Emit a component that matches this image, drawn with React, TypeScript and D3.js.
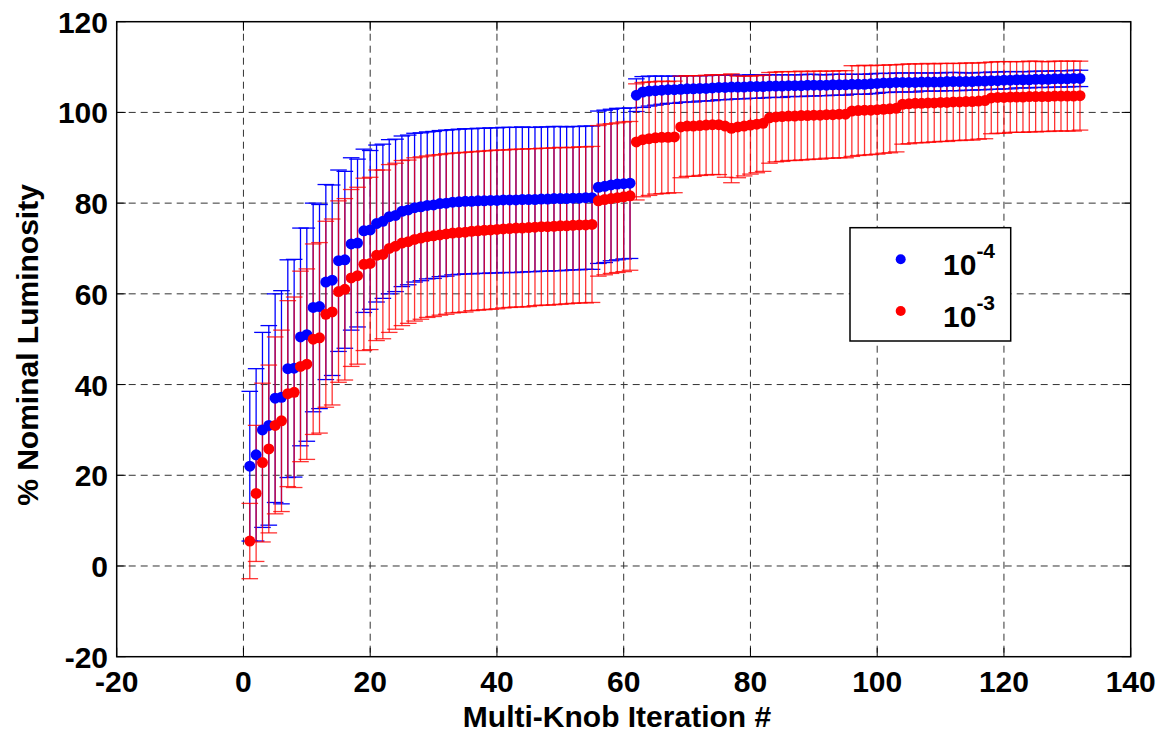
import React from 'react';
import * as d3 from 'd3';

// % nominal luminosity per multi-knob iteration, two noise levels
const iterations = d3.range(1, 133);

const blueValues = [
  22.0, 24.5, 30.0, 31.0, 37.0, 37.2, 43.5, 43.6, 50.5, 51.0,
  57.0, 57.2, 62.6, 63.0, 67.3, 67.5, 71.0, 71.2, 73.9, 74.1,
  75.5, 76.0, 77.0, 77.3, 78.2, 78.5, 79.0, 79.2, 79.5, 79.6,
  79.9, 80.0, 80.2, 80.3, 80.4, 80.4, 80.5, 80.5, 80.6, 80.6,
  80.7, 80.7, 80.7, 80.8, 80.8, 80.8, 80.9, 80.9, 81.0, 81.0,
  81.0, 81.1, 81.1, 81.2, 81.2, 83.5, 83.7, 84.0, 84.2, 84.3,
  84.4, 103.8, 104.5, 104.7, 104.8, 104.9, 105.0, 105.0, 105.1, 105.2,
  105.2, 105.3, 105.3, 105.4, 105.5, 105.5, 105.6, 105.6, 105.6, 105.7,
  105.7, 105.7, 105.8, 105.8, 105.8, 105.9, 105.9, 105.9, 106.0, 106.0,
  106.0, 106.0, 106.1, 106.1, 106.1, 106.2, 106.2, 106.2, 106.3, 106.4,
  106.5, 106.5, 106.6, 106.6, 106.6, 106.6, 106.7, 106.7, 106.7, 106.7,
  106.8, 106.8, 106.8, 106.8, 106.8, 106.9, 106.9, 107.0, 107.0, 107.1,
  107.1, 107.2, 107.2, 107.2, 107.3, 107.3, 107.3, 107.4, 107.4, 107.4,
  107.5, 107.5,
];

const blueErrors = [
  16.5, 19.0, 21.5, 22.0, 23.0, 23.5, 24.0, 24.0, 24.0, 23.5,
  23.0, 22.5, 21.5, 21.0, 20.0, 19.5, 19.0, 18.5, 18.0, 17.5,
  17.3, 17.0, 17.0, 16.8, 16.6, 16.5, 16.4, 16.3, 16.2, 16.2,
  16.1, 16.1, 16.0, 16.0, 16.0, 16.0, 16.0, 16.0, 16.0, 16.0,
  16.0, 16.0, 16.0, 16.0, 15.9, 15.9, 15.9, 15.9, 15.9, 15.9,
  15.8, 15.8, 15.8, 15.8, 15.8, 16.8, 16.8, 16.7, 16.7, 16.6,
  16.6, 3.6, 3.4, 3.3, 3.2, 3.1, 3.0, 3.0, 2.9, 2.9,
  2.9, 2.8, 2.8, 2.8, 2.7, 2.7, 2.7, 2.6, 2.6, 2.6,
  2.6, 2.5, 2.5, 2.5, 2.5, 2.4, 2.4, 2.4, 2.4, 2.4,
  2.3, 2.3, 2.3, 2.3, 2.3, 2.2, 2.2, 2.2, 2.2, 2.2,
  2.1, 2.1, 2.1, 2.1, 2.1, 2.1, 2.0, 2.0, 2.0, 2.0,
  2.0, 2.0, 2.0, 1.9, 1.9, 1.9, 1.9, 1.9, 1.9, 1.9,
  1.9, 1.8, 1.8, 1.8, 1.8, 1.8, 1.8, 1.8, 1.8, 1.8,
  1.8, 1.8,
];

const redValues = [
  5.5, 16.0, 22.8, 25.8, 31.0, 32.0, 38.0, 38.3, 44.0, 44.5,
  50.0, 50.3, 55.5, 56.0, 60.5, 61.0, 63.5, 64.0, 66.5, 66.7,
  68.5, 68.7, 70.0, 70.5, 71.2, 71.5, 72.0, 72.3, 72.6, 72.8,
  73.0, 73.2, 73.4, 73.5, 73.6, 73.8, 73.9, 74.0, 74.1, 74.2,
  74.3, 74.4, 74.5, 74.5, 74.6, 74.7, 74.8, 74.8, 74.9, 75.0,
  75.0, 75.1, 75.2, 75.2, 75.3, 80.5, 80.8, 81.0, 81.2, 81.4,
  81.6, 93.5, 94.0, 94.2, 94.4, 94.5, 94.5, 94.6, 96.8, 97.0,
  97.0, 97.1, 97.2, 97.3, 97.3, 97.0, 96.5, 96.8, 97.0, 97.2,
  97.4, 97.6, 98.8, 99.0, 99.1, 99.2, 99.2, 99.3, 99.3, 99.4,
  99.4, 99.5, 99.5, 99.6, 99.6, 100.3, 100.4, 100.5, 100.5, 100.6,
  100.7, 100.8, 100.9, 101.8, 101.9, 102.0, 102.0, 102.1, 102.1, 102.2,
  102.2, 102.3, 102.3, 102.4, 102.4, 102.5, 102.6, 103.2, 103.3, 103.3,
  103.4, 103.4, 103.4, 103.5, 103.5, 103.5, 103.5, 103.6, 103.6, 103.6,
  103.6, 103.7,
];

const redErrors = [
  8.3, 15.0, 17.5, 18.5, 19.5, 20.0, 20.5, 21.0, 21.0, 21.0,
  21.0, 21.0, 20.5, 20.5, 20.0, 20.0, 19.5, 19.5, 19.0, 19.0,
  18.8, 18.6, 18.5, 18.3, 18.2, 18.0, 18.0, 17.9, 17.8, 17.8,
  17.7, 17.7, 17.6, 17.6, 17.6, 17.5, 17.5, 17.5, 17.5, 17.5,
  17.4, 17.4, 17.4, 17.4, 17.4, 17.3, 17.3, 17.3, 17.3, 17.3,
  17.2, 17.2, 17.2, 17.2, 17.2, 16.6, 16.6, 16.5, 16.5, 16.5,
  16.4, 12.8, 12.6, 12.5, 12.4, 12.4, 12.3, 12.3, 11.2, 11.1,
  11.1, 11.0, 11.0, 11.0, 11.0, 11.3, 12.0, 11.2, 11.0, 10.8,
  10.7, 10.6, 10.0, 9.9, 9.9, 9.8, 9.8, 9.8, 9.7, 9.7,
  9.7, 9.6, 9.6, 9.6, 9.6, 10.0, 9.9, 9.9, 9.8, 9.8,
  9.7, 9.7, 9.6, 8.8, 8.8, 8.7, 8.7, 8.7, 8.6, 8.6,
  8.6, 8.5, 8.5, 8.5, 8.5, 8.4, 8.4, 7.9, 7.9, 7.9,
  7.8, 7.8, 7.8, 7.8, 7.8, 7.7, 7.7, 7.7, 7.7, 7.7,
  7.7, 7.6,
];

const xTicks = [-20, 0, 20, 40, 60, 80, 100, 120, 140];
const yTicks = [-20, 0, 20, 40, 60, 80, 100, 120];

const series = [
  { label: '-4', color: '#0000ff', values: blueValues, errors: blueErrors, barOpacity: 1 },
  { label: '-3', color: '#ff0000', values: redValues, errors: redErrors, barOpacity: 0.8 },
];

const W = 1159;
const H = 732;
const FONT = '"Liberation Sans", Arial, Helvetica, sans-serif';

export default function App() {
  const box = { left: 116.7, right: 1130.7, top: 21.7, bottom: 656.7 };
  const x = d3.scaleLinear().domain([-20, 140]).range([box.left, box.right]);
  const y = d3.scaleLinear().domain([-20, 120]).range([box.bottom, box.top]);
  const cap = x(1.31) - x(0); // errorbar tee, 1% of data x-span
  const tickLen = 9;

  return (
    <div style={{ position: 'absolute', left: 0, top: 0 }}>
      <svg width={W} height={H} style={{ display: 'block', background: '#fff' }} fontFamily={FONT}>
        {/* grid */}
        <g stroke="#333" strokeWidth={1} strokeDasharray="7,5">
          {xTicks.slice(1, -1).map(t => (
            <line key={'gx' + t} x1={x(t)} x2={x(t)} y1={box.top} y2={box.bottom} />
          ))}
          {yTicks.slice(1, -1).map(t => (
            <line key={'gy' + t} x1={box.left} x2={box.right} y1={y(t)} y2={y(t)} />
          ))}
        </g>

        {/* error bars */}
        {series.map(s => (
          <g key={'bars' + s.label} stroke={s.color} strokeWidth={1.3} strokeOpacity={s.barOpacity}>
            {iterations.map((it, i) => {
              const cx = x(it);
              const lo = y(s.values[i] - s.errors[i]);
              const hi = y(s.values[i] + s.errors[i]);
              return (
                <g key={it}>
                  <line x1={cx} x2={cx} y1={lo} y2={hi} />
                  <line x1={cx - cap} x2={cx + cap} y1={lo} y2={lo} />
                  <line x1={cx - cap} x2={cx + cap} y1={hi} y2={hi} />
                </g>
              );
            })}
          </g>
        ))}

        {/* markers */}
        {series.map(s => (
          <g key={'dots' + s.label} fill={s.color}>
            {iterations.map((it, i) => (
              <circle key={it} cx={x(it)} cy={y(s.values[i])} r={5.5} />
            ))}
          </g>
        ))}

        {/* axes box + inward ticks */}
        <rect x={box.left} y={box.top} width={box.right - box.left} height={box.bottom - box.top}
          fill="none" stroke="#000" strokeWidth={1.5} />
        <g stroke="#000" strokeWidth={1}>
          {xTicks.map(t => (
            <g key={'tx' + t}>
              <line x1={x(t)} x2={x(t)} y1={box.bottom} y2={box.bottom - tickLen} />
              <line x1={x(t)} x2={x(t)} y1={box.top} y2={box.top + tickLen} />
            </g>
          ))}
          {yTicks.map(t => (
            <g key={'ty' + t}>
              <line x1={box.left} x2={box.left + tickLen} y1={y(t)} y2={y(t)} />
              <line x1={box.right} x2={box.right - tickLen} y1={y(t)} y2={y(t)} />
            </g>
          ))}
        </g>

        {/* tick labels */}
        <g fontSize={30} fontWeight="bold" fill="#000">
          {xTicks.map(t => (
            <text key={'lx' + t} x={x(t)} y={692} textAnchor="middle">{t}</text>
          ))}
          {yTicks.map(t => (
            <text key={'ly' + t} x={108} y={y(t) + 11} textAnchor="end">{t}</text>
          ))}
        </g>

        {/* axis titles */}
        <text x={617} y={727} textAnchor="middle" fontSize={30} fontWeight="bold">
          Multi-Knob Iteration #
        </text>
        <text transform="translate(38,345) rotate(-90)" textAnchor="middle" fontSize={30} fontWeight="bold">
          % Nominal Luminosity
        </text>

        {/* legend */}
        <g>
          <rect x={850} y={227.7} width={160.7} height={113.3} fill="#fff" stroke="#000" strokeWidth={1.5} />
          {series.map((s, i) => {
            const ly = 259.3 + i * 51.7;
            return (
              <g key={'leg' + s.label}>
                <circle cx={900.7} cy={ly} r={5} fill={s.color} />
                <text x={943} y={ly + 16} fontSize={30} fontWeight="bold">
                  10<tspan fontSize={21} dy={-17}>{s.label}</tspan>
                </text>
              </g>
            );
          })}
        </g>
      </svg>
    </div>
  );
}
